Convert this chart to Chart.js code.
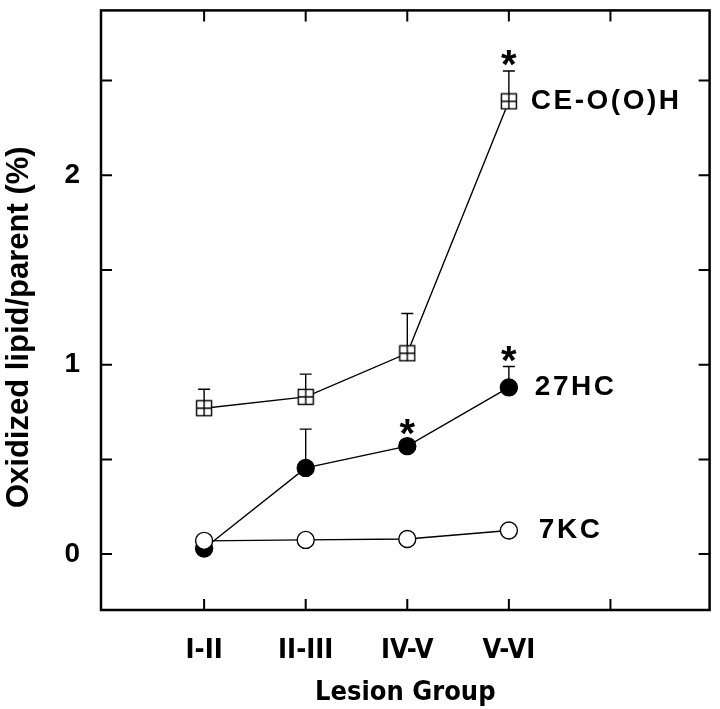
<!DOCTYPE html>
<html>
<head>
<meta charset="utf-8">
<script src="https://cdn.jsdelivr.net/npm/chart.js@4.4.1/dist/chart.umd.min.js"></script>
<style>
  html, body { margin: 0; padding: 0; background: #fff; }
</style>
</head>
<body>
<canvas id="chart" width="720" height="709"></canvas>
<script>
const lesionGroups = ["I-II", "II-III", "IV-V", "V-VI"];
const ceoohMean = [0.77, 0.83, 1.06, 2.39];
const ceoohErr = [0.10, 0.12, 0.21, 0.16];
const hc27Mean = [0.03, 0.455, 0.57, 0.88];
const hc27Err = [0, 0.205, 0, 0.11];
const kc7Mean = [0.07, 0.075, 0.08, 0.125];
const seriesNames = ["CE-O(O)H", "27HC", "7KC"];
const starGroups = [3, 2, 3];
const starValues = [2.6, 0.65, 1.035];
const yTicks = [0, 0.5, 1, 1.5, 2, 2.5];
const xTicks = [0, 1, 2, 3, 4];
const yTitle = "Oxidized lipid/parent (%)";

const sansBold = "'Liberation Sans', Arial, sans-serif";
const condBold = "'DejaVu Sans Condensed', 'DejaVu Sans', sans-serif";

const crossSquare = (() => {
  const c = document.createElement("canvas");
  c.width = 18;
  c.height = 18;
  const g = c.getContext("2d");
  g.fillStyle = "#fff";
  g.fillRect(1, 1, 16, 16);
  g.strokeStyle = "#000";
  g.lineWidth = 1.4;
  g.strokeRect(1.5, 1.5, 15, 15);
  g.beginPath();
  g.moveTo(9, 1.5); g.lineTo(9, 16.5);
  g.moveTo(1.5, 9); g.lineTo(16.5, 9);
  g.stroke();
  return c;
})();

const points = values => values.map((y, x) => ({ x, y }));

// no automatic label padding, the frame sits where the layout padding says
const noPad = s => {
  s.paddingTop = 0;
  s.paddingBottom = 0;
  s.paddingLeft = 0;
  s.paddingRight = 0;
};

const extras = {
  id: "extras",
  beforeDatasetsDraw(chart) {
    const { ctx, scales: { x, y } } = chart;
    ctx.save();
    ctx.strokeStyle = "#000";
    ctx.lineWidth = 1.4;
    [[ceoohMean, ceoohErr], [hc27Mean, hc27Err]].forEach(([mean, err]) => {
      mean.forEach((m, i) => {
        if (!err[i]) return;
        const px = x.getPixelForValue(i);
        const top = y.getPixelForValue(m + err[i]);
        ctx.beginPath();
        ctx.moveTo(px, y.getPixelForValue(m));
        ctx.lineTo(px, top);
        ctx.moveTo(px - 6, top);
        ctx.lineTo(px + 6, top);
        ctx.stroke();
      });
    });
    ctx.restore();
  },
  afterDraw(chart) {
    const { ctx, chartArea: a, scales: { x, y } } = chart;
    ctx.save();
    ctx.strokeStyle = "#000";
    ctx.lineWidth = 2.5;
    ctx.strokeRect(a.left, a.top, a.right - a.left, a.bottom - a.top);

    ctx.lineWidth = 2;
    ctx.beginPath();
    x.ticks.forEach(t => {
      const px = x.getPixelForValue(t.value);
      ctx.moveTo(px, a.bottom); ctx.lineTo(px, a.bottom - 11);
      ctx.moveTo(px, a.top); ctx.lineTo(px, a.top + 11);
    });
    y.ticks.forEach(t => {
      const py = y.getPixelForValue(t.value);
      ctx.moveTo(a.left, py); ctx.lineTo(a.left + 11, py);
      ctx.moveTo(a.right, py); ctx.lineTo(a.right - 11, py);
    });
    ctx.stroke();

    ctx.fillStyle = "#000";
    ctx.textAlign = "center";
    ctx.textBaseline = "alphabetic";
    ctx.font = `bold 40px ${sansBold}`;
    starGroups.forEach((g, i) => {
      ctx.fillText("*", x.getPixelForValue(g), y.getPixelForValue(starValues[i]) + 16);
    });

    // y title sits a little below the middle of the frame in the original
    ctx.save();
    ctx.translate(19, (a.top + a.bottom) / 2 + 17);
    ctx.rotate(-Math.PI / 2);
    ctx.textBaseline = "middle";
    ctx.font = `bold 31px ${sansBold}`;
    ctx.fillText(yTitle, 0, 0);
    ctx.restore();

    ctx.textAlign = "left";
    ctx.textBaseline = "middle";
    ctx.font = `bold 28px ${sansBold}`;
    ctx.letterSpacing = "2.5px";
    const last = [ceoohMean, hc27Mean, kc7Mean].map(s => s[s.length - 1]);
    const offsets = [22, 26, 30];
    seriesNames.forEach((name, i) => {
      ctx.fillText(name, x.getPixelForValue(lesionGroups.length - 1) + offsets[i], y.getPixelForValue(last[i]));
    });
    ctx.restore();
  }
};

const lineStyle = {
  borderColor: "#000",
  borderWidth: 1.4,
  pointBorderColor: "#000",
  pointBorderWidth: 1.4,
  tension: 0,
  fill: false
};

new Chart(document.getElementById("chart"), {
  type: "line",
  data: {
    datasets: [
      { ...lineStyle, label: "7KC", data: points(kc7Mean), pointRadius: 8.5, pointBackgroundColor: "#fff" },
      { ...lineStyle, label: "27HC", data: points(hc27Mean), pointRadius: 8.5, pointBackgroundColor: "#000" },
      { ...lineStyle, label: "CE-O(O)H", data: points(ceoohMean), pointStyle: crossSquare, pointRadius: 9 }
    ]
  },
  options: {
    responsive: false,
    animation: false,
    layout: { padding: { top: 8, right: 4, left: 0, bottom: 0 } },
    plugins: { legend: { display: false }, tooltip: { enabled: false } },
    scales: {
      x: {
        type: "linear",
        min: -1.015,
        max: 4.976,
        grid: { display: false, drawTicks: false },
        border: { display: false },
        afterBuildTicks: s => { s.ticks = xTicks.map(value => ({ value })); },
        afterFit: s => { s.height = 99; noPad(s); },
        ticks: {
          padding: 25, color: "#000", autoSkip: false, maxRotation: 0,
          font: { family: condBold, weight: "bold", size: 27 },
          callback: v => lesionGroups[v] ?? ""
        },
        title: {
          display: true, text: "Lesion Group", color: "#000",
          font: { family: condBold, weight: "bold", size: 27 },
          padding: { top: 0, bottom: 0 }
        }
      },
      y: {
        min: -0.295,
        max: 2.87,
        grid: { display: false, drawTicks: false },
        border: { display: false },
        afterBuildTicks: s => { s.ticks = yTicks.map(value => ({ value })); },
        afterFit: s => { s.width = 101; noPad(s); },
        ticks: {
          padding: 21, color: "#000",
          font: { family: sansBold, weight: "bold", size: 28 },
          callback: v => Number.isInteger(v) ? String(v) : ""
        },
        title: { display: false }
      }
    }
  },
  plugins: [extras]
});
</script>
</body>
</html>
